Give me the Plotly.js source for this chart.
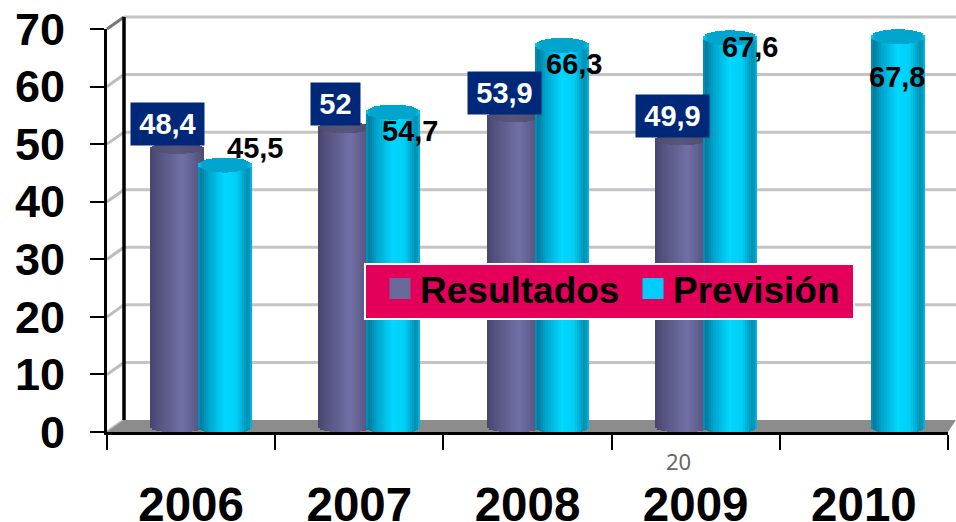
<!DOCTYPE html>
<html><head><meta charset="utf-8">
<script src="https://cdn.plot.ly/plotly-3.0.1.min.js"></script>
<style>html,body{margin:0;padding:0;background:#fff}#c{width:956px;height:522px}</style>
</head><body><div id="c"></div>
<script>
// ---- data ----
const years = ['2006','2007','2008','2009','2010'];
const resultados = [48.4, 52, 53.9, 49.9, null];
const prevision = [45.5, 54.7, 66.3, 67.6, 67.8];
const resultadosLabels = ['48,4','52','53,9','49,9',''];
const previsionLabels = ['45,5','54,7','66,3','67,6','67,8'];
const yTicks = [0,10,20,30,40,50,60,70];

// ---- label nudges (px) ----
const prevShiftX = [64,51,46,54,33];
const prevShiftY = [22,-14,-14,-4,-35];

// ---- geometry / style ----
const M = {l:107,r:8,t:29,b:90}, W = 956, H = 522;
const plotW = W-M.l-M.r, plotH = H-M.t-M.b;
const pxX = p => (p-M.l)/plotW, pxY = p => (H-M.b-p)/plotH;
const unit = 70/plotH;          // data units per px (y)
const catPx = plotW/years.length;
const barW = 54/catPx;
const offRes = -41/catPx, offPrev = 7/catPx;
const lift = 5*unit;            // bar base sits slightly behind the axis (3D depth)
const NS = 27;

function lerp(stops,t){
  for(let i=1;i<stops.length;i++){
    if(t<=stops[i][0]){
      const a=stops[i-1],b=stops[i],f=(t-a[0])/(b[0]-a[0]||1);
      return 'rgb('+[0,1,2].map(k=>Math.round(a[1][k]+(b[1][k]-a[1][k])*f)).join(',')+')';
    }
  }
  const l=stops[stops.length-1][1];return 'rgb('+l.join(',')+')';
}
const bodyRes=[[0,[70,68,108]],[.15,[84,82,126]],[.6,[113,112,165]],[.85,[92,90,138]],[1,[78,76,118]]];
const lidRes=[[0,[78,76,112]],[.5,[88,86,124]],[1,[78,76,112]]];
const bodyPrev=[[0,[0,150,185]],[.06,[0,125,160]],[.2,[0,165,205]],[.5,[0,216,255]],[.72,[0,205,245]],[.93,[0,140,175]],[1,[0,190,230]]];
const lidPrev=[[0,[0,205,245]],[.08,[0,165,205]],[.92,[0,165,205]],[1,[0,205,245]]];

function cylinder(vals,off,stopsBody,stopsLid,name,ry){
  const b={x:[],y:[],base:[],width:[],offset:[],color:[]}, l={x:[],y:[],base:[],width:[],offset:[],color:[]};
  const sw=barW/NS;
  vals.forEach((v,i)=>{
    if(v==null) return;
    const c=v+lift;
    for(let s=0;s<NS;s++){
      const t=(s+.5)/NS, e=Math.sqrt(Math.max(0,1-(2*t-1)*(2*t-1)))*ry;
      b.x.push(years[i]);b.base.push(lift-e);b.y.push(c-e-(lift-e));
      b.width.push(sw);b.offset.push(off+s*sw);b.color.push(lerp(stopsBody,t));
      l.x.push(years[i]);l.base.push(c-e);l.y.push(2*e);
      l.width.push(sw);l.offset.push(off+s*sw);l.color.push(lerp(stopsLid,t));
    }
  });
  const mk=(d,n)=>({type:'bar',name:n,x:d.x,y:d.y,base:d.base,width:d.width,offset:d.offset,
    marker:{color:d.color,line:{width:0}},showlegend:false,hoverinfo:'skip',cliponaxis:false});
  return [mk(l,name+' top'),mk(b,name+' body')];
}
const legendEntry=(n,c)=>({type:'scatter',mode:'markers',name:n,x:[null],y:[null],
  marker:{symbol:'square',size:16,color:c,line:{width:5,color:c}},showlegend:true});

const data=[
  ...cylinder(resultados,offRes,bodyRes,lidRes,'Resultados',5.5*unit),
  ...cylinder(prevision,offPrev,bodyPrev,lidPrev,'Previsión',7.5*unit),
  legendEntry('Resultados','#6a6a9a'),
  legendEntry('Previsión','#00ccff')
];

// ---- 3D box: floor, back wall, grid ----
const dx=17, dy=12;
const shapes=[];
const line=(x0,y0,x1,y1,color,width,layer)=>shapes.push({type:'line',xref:'paper',yref:'paper',
  x0:pxX(x0),y0:pxY(y0),x1:pxX(x1),y1:pxY(y1),line:{color,width},layer:layer||'below'});
yTicks.forEach(v=>{
  const y=H-M.b-v/unit;
  if(v>0) line(M.l+dx,y-dy,W,y-dy,'#c4c4c4',3);
  line(M.l,y,M.l+dx,y-dy,v===70?'#777777':'#bcbcbc',3);
});
shapes.push({type:'path',xref:'paper',yref:'paper',layer:'below',line:{width:0},fillcolor:'#8c8c8c',
  path:`M${pxX(M.l)},${pxY(432)} L${pxX(M.l+dx)},${pxY(420)} L${pxX(W)},${pxY(420)} L${pxX(948)},${pxY(432)} Z`});
line(M.l+dx,17,M.l+dx,420,'#000000',3.5);
// legend plate
shapes.push({type:'rect',xref:'paper',yref:'paper',layer:'above',
  x0:pxX(365),x1:pxX(854),y0:pxY(264),y1:pxY(319),fillcolor:'#e4005a',line:{color:'#ffffff',width:2}});
line(705,265,705,318,'#b5206e',1,'above');

// ---- labels ----
const annotations=[];
years.forEach((yr,i)=>{
  if(resultados[i]!=null) annotations.push({x:i,y:resultados[i],xref:'x',yref:'y',text:resultadosLabels[i],
    showarrow:false,xshift:-23.5,yshift:29,bgcolor:'#002878',height:42,borderpad:0,
    width:resultadosLabels[i].length>2?73:49,font:{family:'Liberation Sans',size:29,color:'#fff',weight:700}});
  annotations.push({x:i,y:prevision[i],xref:'x',yref:'y',text:previsionLabels[i],showarrow:false,
    xshift:prevShiftX[i],yshift:prevShiftY[i],font:{family:'Liberation Sans',size:29,color:'#000',weight:700}});
});
annotations.push({xref:'paper',yref:'paper',x:pxX(678),y:pxY(461),xanchor:'center',yanchor:'middle',text:'20',showarrow:false,
  font:{family:'Noto Sans',size:22,color:'#666666'}});

const layout={
  width:W,height:H,margin:M,paper_bgcolor:'#fff',plot_bgcolor:'rgba(0,0,0,0)',
  barmode:'overlay',bargap:0,hovermode:false,
  font:{family:'Liberation Sans',color:'#000'},
  xaxis:{type:'category',categoryorder:'array',categoryarray:years,tickson:'boundaries',range:[-.5,4.5],
    ticks:'outside',ticklen:15,tickwidth:2,tickcolor:'#000',showgrid:false,showline:true,linecolor:'#000',linewidth:3,
    tickfont:{family:'Liberation Sans',size:47.5,color:'#000',weight:700},ticklabelstandoff:29,fixedrange:true,zeroline:false},
  yaxis:{range:[0,70],tickmode:'array',tickvals:yTicks,ticks:'outside',ticklen:14,tickwidth:2,tickcolor:'#000',
    showgrid:false,zeroline:false,showline:true,linecolor:'#000',linewidth:3,
    tickfont:{family:'Liberation Sans',size:45,color:'#000',weight:700},ticklabelstandoff:16,fixedrange:true},
  legend:{orientation:'h',x:pxX(380),y:pxY(258),xanchor:'left',yanchor:'top',bgcolor:'rgba(0,0,0,0)',borderwidth:0,
    entrywidth:208,entrywidthmode:'pixels',
    font:{family:'Liberation Sans',size:37,color:'#000',weight:700},itemclick:false,itemdoubleclick:false},
  shapes,annotations,showlegend:true
};
Plotly.newPlot('c',data,layout,{displayModeBar:false,staticPlot:true});
</script></body></html>
